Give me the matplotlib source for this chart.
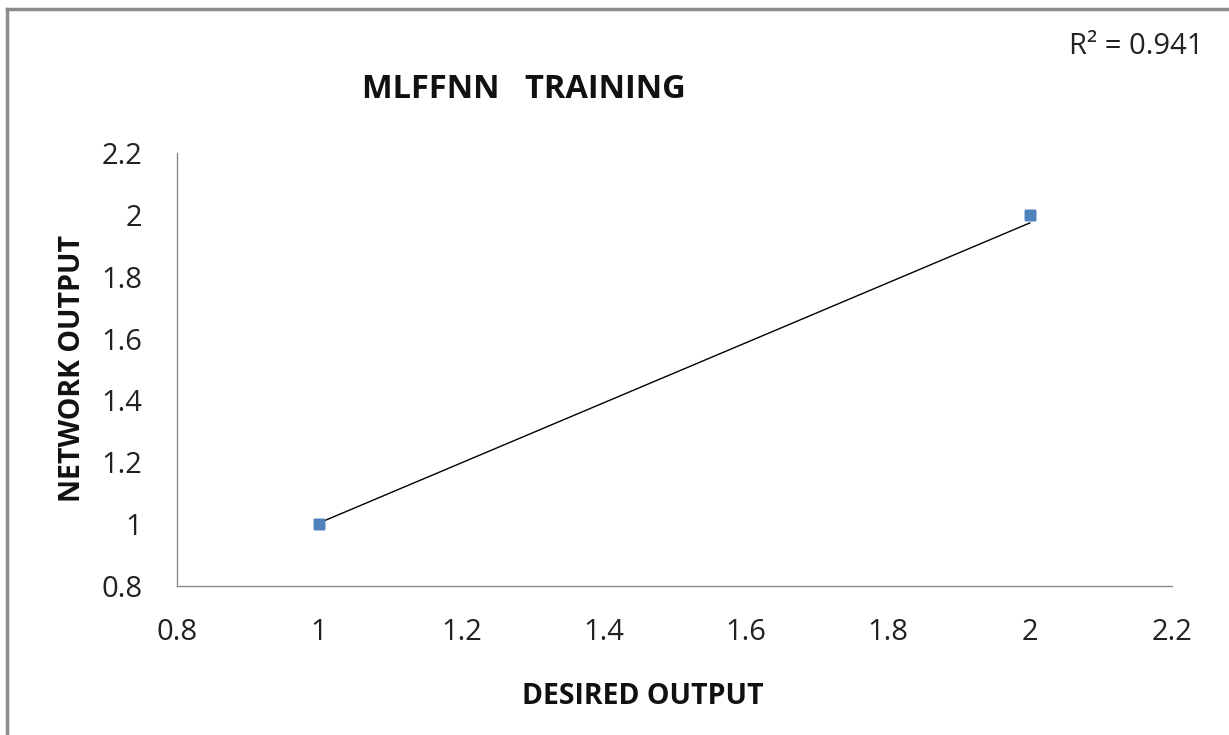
import matplotlib.pyplot as plt
from matplotlib.lines import Line2D

# training results
desired = [1, 1, 1, 2, 2, 2]
network = [1.0, 1.0, 1.0, 2.0, 2.0, 2.0]

# linear trendline and its fit quality
slope = 0.97
intercept = 0.034
r_squared = 0.941

xticks = [0.8, 1, 1.2, 1.4, 1.6, 1.8, 2, 2.2]
yticks = [0.8, 1, 1.2, 1.4, 1.6, 1.8, 2, 2.2]

plt.rcParams['font.family'] = ['Open Sans', 'DejaVu Sans']

fig = plt.figure(figsize=(12.29, 7.35), dpi=100)
ax = fig.add_axes([0.144, 0.2027, 0.8096, 0.5891])

ax.scatter(desired, network, marker='s', s=55, color='#4F81BD', zorder=3)
tx = [min(desired), max(desired)]
ty = [slope * v + intercept for v in tx]
ax.plot(tx, ty, color='black', linewidth=1.0, zorder=2)

ax.set_xlim(0.8, 2.2)
ax.set_ylim(0.8, 2.2)
ax.set_xticks(xticks)
ax.set_yticks(yticks)
ax.set_xticklabels([f'{v:g}' for v in xticks])
ax.set_yticklabels([f'{v:g}' for v in yticks])
ax.tick_params(length=0, labelsize=21, colors='#222222')
ax.tick_params(axis='x', pad=23)
ax.tick_params(axis='y', pad=25)

for side in ('top', 'right'):
    ax.spines[side].set_visible(False)
for side in ('left', 'bottom'):
    ax.spines[side].set_color('#8c8c8c')
    ax.spines[side].set_linewidth(1.0)

fig.text(524 / 1229, 1 - 90 / 735, 'MLFFNN   TRAINING', fontsize=23.5, fontweight='bold',
         ha='center', va='center', color='#111111')
fig.text(643 / 1229, 1 - 697 / 735, 'DESIRED OUTPUT', fontsize=20.5, fontweight='bold',
         ha='center', va='center', color='#111111')
fig.text(73 / 1229, 1 - 368 / 735, 'NETWORK OUTPUT', fontsize=20.5, fontweight='bold',
         ha='center', va='center', rotation=90, color='#111111')
fig.text(1136 / 1229, 1 - 47 / 735, f'R² = {r_squared}', fontsize=21,
         ha='center', va='center', color='#222222')

# outer chart frame (only top and left edges are in view)
fig.add_artist(Line2D([7 / 1229, 1.0], [1 - 9 / 735, 1 - 9 / 735],
                      transform=fig.transFigure, color='#8c8c8c', linewidth=2.5))
fig.add_artist(Line2D([7 / 1229, 7 / 1229], [0.0, 1 - 9 / 735],
                      transform=fig.transFigure, color='#8c8c8c', linewidth=2.5))

fig.savefig('out.png', dpi=100, facecolor='white')
